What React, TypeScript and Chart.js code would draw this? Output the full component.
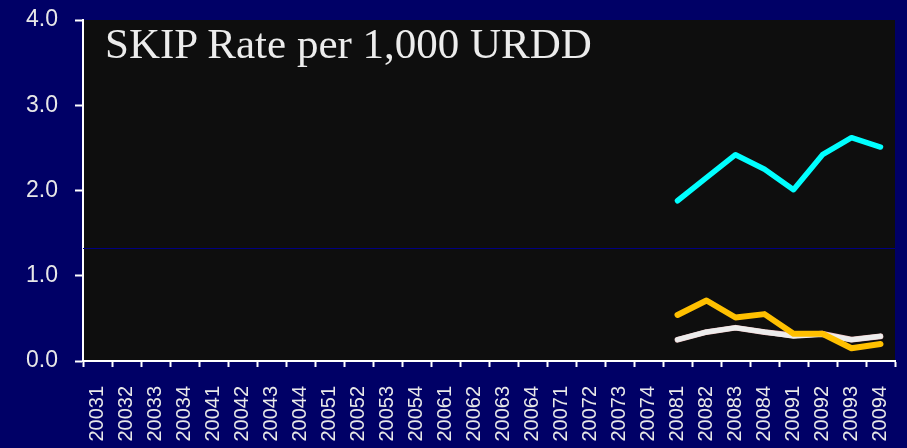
import React, { useEffect, useRef } from "react";
import { Chart, registerables } from "chart.js";

Chart.register(...registerables);

const categories = [
  "20031", "20032", "20033", "20034",
  "20041", "20042", "20043", "20044",
  "20051", "20052", "20053", "20054",
  "20061", "20062", "20063", "20064",
  "20071", "20072", "20073", "20074",
  "20081", "20082", "20083", "20084",
  "20091", "20092", "20093", "20094",
];

const N = null;
const seriesCyan = [N, N, N, N, N, N, N, N, N, N, N, N, N, N, N, N, N, N, N, N,
  1.88, 2.15, 2.42, 2.25, 2.01, 2.42, 2.62, 2.51];
const seriesGold = [N, N, N, N, N, N, N, N, N, N, N, N, N, N, N, N, N, N, N, N,
  0.54, 0.71, 0.51, 0.55, 0.32, 0.32, 0.15, 0.20];
const seriesWhite = [N, N, N, N, N, N, N, N, N, N, N, N, N, N, N, N, N, N, N, N,
  0.25, 0.34, 0.39, 0.34, 0.29, 0.31, 0.25, 0.29];
const seriesPink = [N, N, N, N, N, N, N, N, N, N, N, N, N, N, N, N, N, N, N, N,
  0.25, 0.34, 0.39, 0.34, 0.30, 0.32, 0.25, 0.29];

const yTicks = [0, 1, 2, 3, 4];
const referenceLineValue = 1.325;
const titleText = "SKIP Rate per 1,000 URDD";

const NAVY = "#000066";
const PLOT_BG = "#0e0e0e";
const TEXT = "#e8e8e8";

export default function App() {
  const ref = useRef<HTMLCanvasElement | null>(null);

  useEffect(() => {
    document.body.style.margin = "0";
    const canvas = ref.current;
    if (!canvas) return;

    const bgPlugin = {
      id: "plotBg",
      beforeDraw(chart: any) {
        const { ctx, chartArea } = chart;
        ctx.save();
        ctx.fillStyle = PLOT_BG;
        ctx.fillRect(chartArea.left, chartArea.top, chartArea.right - chartArea.left, chartArea.bottom - chartArea.top);
        ctx.restore();
      },
    };

    const refLinePlugin = {
      id: "refLine",
      beforeDatasetsDraw(chart: any) {
        const { ctx, chartArea, scales } = chart;
        const y = Math.round(scales.y.getPixelForValue(referenceLineValue)) + 0.5;
        ctx.save();
        ctx.strokeStyle = "#000080";
        ctx.lineWidth = 1;
        ctx.beginPath();
        ctx.moveTo(chartArea.left, y);
        ctx.lineTo(chartArea.right, y);
        ctx.stroke();
        ctx.restore();
      },
    };

    const lineDs = (data: (number | null)[], color: string, width: number) => ({
      data,
      borderColor: color,
      backgroundColor: color,
      borderWidth: width,
      pointRadius: 0,
      pointHoverRadius: 0,
      tension: 0,
      borderCapStyle: "round" as const,
      borderJoinStyle: "round" as const,
      spanGaps: false,
    });

    const chart = new Chart(canvas, {
      type: "line",
      data: {
        labels: categories,
        datasets: [
          lineDs(seriesCyan, "#00ffff", 5.5),
          lineDs(seriesGold, "#ffc000", 6),
          lineDs(seriesWhite, "#ececec", 5),
          lineDs(seriesPink, "#f2c4c4", 5.8),
        ],
      },
      options: {
        animation: false,
        responsive: false,
        maintainAspectRatio: false,
        events: [],
        layout: { padding: { top: 20, right: 12, left: 0, bottom: 0 } },
        plugins: {
          legend: { display: false },
          tooltip: { enabled: false },
          title: { display: false },
        },
        scales: {
          x: {
            type: "category",
            offset: true,
            grid: {
              offset: true,
              drawOnChartArea: false,
              drawTicks: true,
              tickLength: 6,
              tickWidth: 2,
              tickColor: "#ffffff",
            },
            border: { display: true, color: "#ffffff", width: 2 },
            ticks: {
              autoSkip: false,
              minRotation: 90,
              maxRotation: 90,
              padding: 19,
              color: TEXT,
              font: { family: "'Liberation Sans', Arial, sans-serif", size: 20 },
            },
            afterFit(scale: any) {
              scale.height = 87;
              scale.paddingLeft = 0;
              scale.paddingRight = 0;
            },
          },
          y: {
            min: 0,
            max: 4,
            afterBuildTicks(scale: any) {
              scale.ticks = yTicks.map((v) => ({ value: v }));
            },
            grid: {
              drawOnChartArea: false,
              drawTicks: true,
              tickLength: 8,
              tickWidth: 2,
              tickColor: "#ffffff",
            },
            border: { display: true, color: "#ffffff", width: 2 },
            ticks: {
              padding: 17,
              color: TEXT,
              font: { family: "'Liberation Sans', Arial, sans-serif", size: 23 },
              callback: (v: any) => Number(v).toFixed(1),
            },
            afterFit(scale: any) {
              scale.width = 83;
              scale.paddingTop = 0;
              scale.paddingBottom = 0;
            },
          },
        },
      },
      plugins: [bgPlugin, refLinePlugin],
    });

    return () => chart.destroy();
  }, []);

  return (
    <div style={{ position: "fixed", left: 0, top: 0, width: 907, height: 448, background: NAVY, overflow: "hidden" }}>
      <canvas ref={ref} width={907} height={448} style={{ display: "block", width: 907, height: 448 }} />
      <div
        style={{
          position: "absolute",
          left: 105,
          top: 22,
          fontFamily: "'Liberation Serif', 'Times New Roman', serif",
          fontSize: 43,
          lineHeight: "43px",
          color: "#ececec",
          whiteSpace: "nowrap",
        }}
      >
        {titleText}
      </div>
    </div>
  );
}
